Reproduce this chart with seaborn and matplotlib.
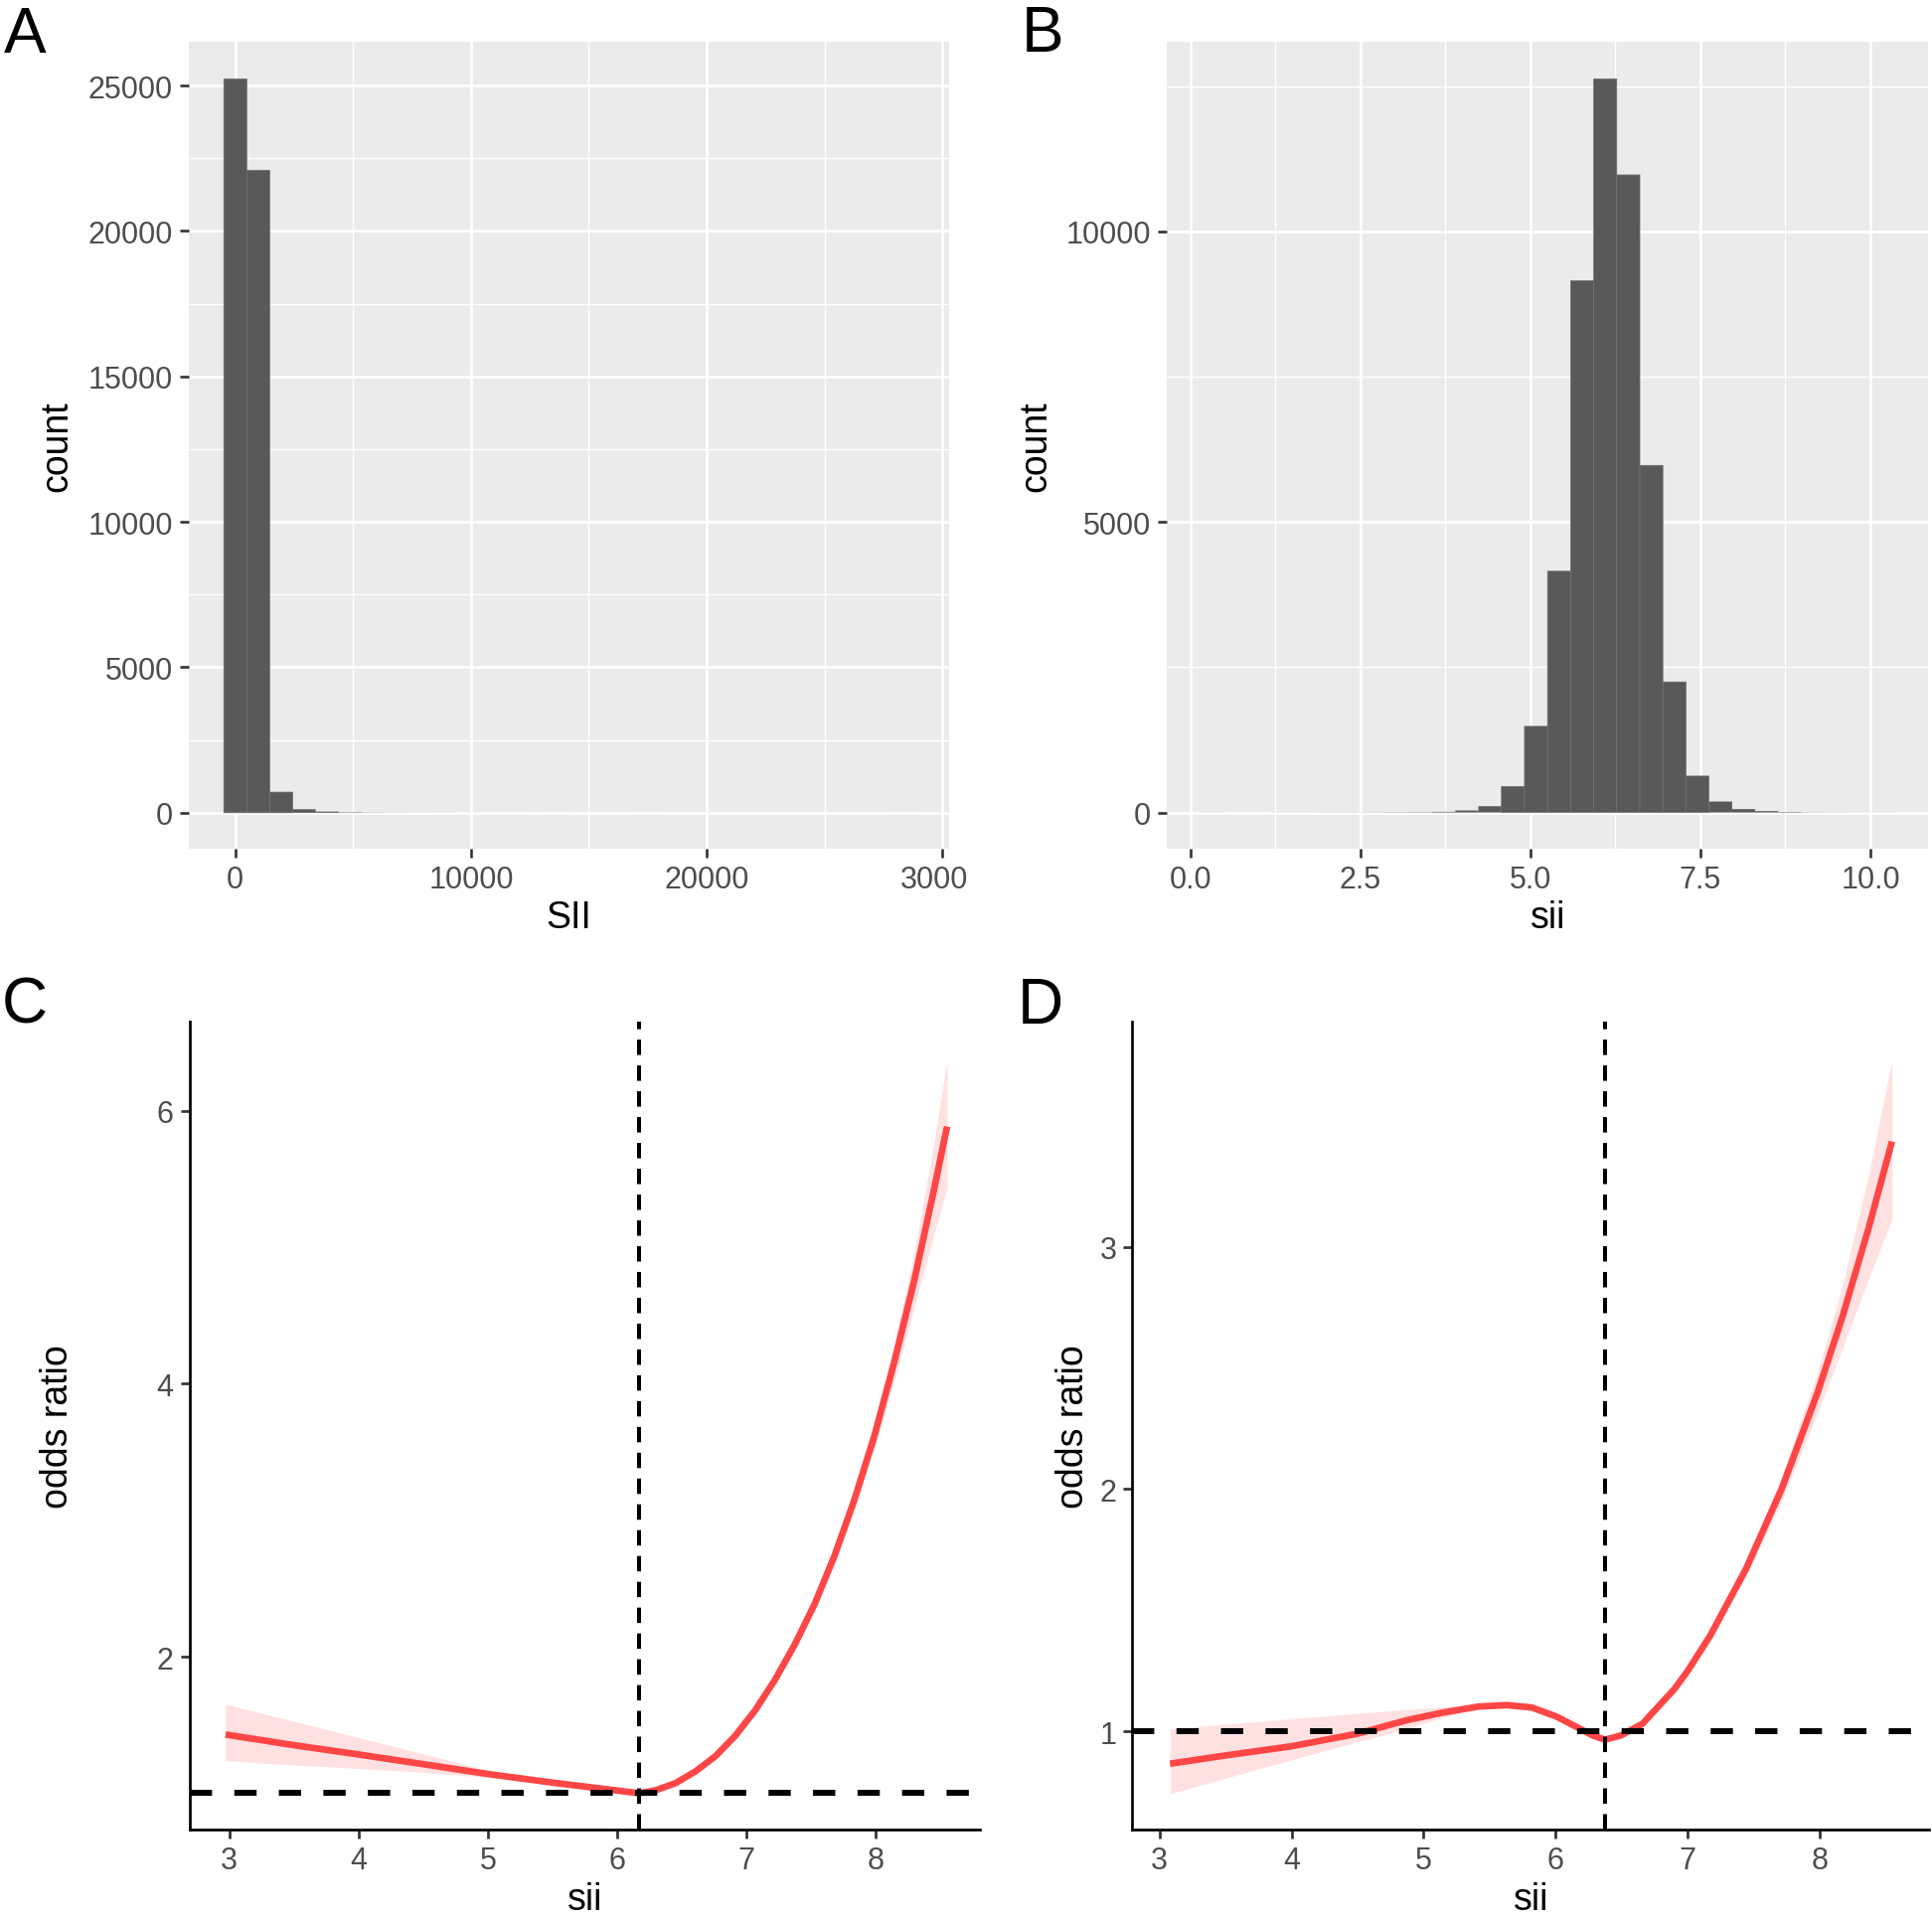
import numpy as np
import pandas as pd
import matplotlib
matplotlib.use("Agg")
import matplotlib.pyplot as plt
import seaborn as sns
from matplotlib.transforms import Bbox, TransformedBbox

# ---------------- data ----------------
# A: histogram of raw SII, 30 bins
sii_bin_start = -488
sii_bin_width = 975
sii_counts = [25230, 22089, 710, 119, 40, 15, 7, 4, 3, 2, 1, 1, 1, 0, 1,
              0, 0, 0, 1, 0, 0, 0, 0, 0, 0, 0, 0, 0, 0, 1]
sii_xticks = [0, 10000, 20000, 30000]
sii_xtick_labels = ["0", "10000", "20000", "30000"]
sii_yticks = [0, 5000, 10000, 15000, 20000, 25000]
sii_ytick_labels = ["0", "5000", "10000", "15000", "20000", "25000"]

# B: histogram of log SII, 30 bins
logsii_bin_start = 0.166
logsii_bin_width = 0.3392
logsii_counts = [1, 0, 0, 1, 1, 2, 2, 3, 4, 5, 11, 34, 108, 448, 1483,
                 4153, 9153, 12628, 10975, 5975, 2247, 627, 188, 57, 23, 8, 3, 2, 1, 1]
logsii_xticks = [0.0, 2.5, 5.0, 7.5, 10.0]
logsii_xtick_labels = ["0.0", "2.5", "5.0", "7.5", "10.0"]
logsii_yticks = [0, 5000, 10000]
logsii_ytick_labels = ["0", "5000", "10000"]

# C: odds ratio curve (model 1)
c_x = [2.97, 3.5, 4.0, 4.5, 5.0, 5.5, 6.0, 6.17, 6.3, 6.454, 6.608, 6.762, 6.915,
       7.069, 7.223, 7.377, 7.531, 7.685, 7.838, 7.992, 8.146, 8.3, 8.454, 8.556]
c_or = [1.43, 1.352, 1.284, 1.213, 1.141, 1.078, 1.02, 1.0, 1.022, 1.074, 1.16, 1.271, 1.42,
        1.606, 1.83, 2.09, 2.387, 2.741, 3.149, 3.615, 4.154, 4.749, 5.419, 5.884]
c_hi = [1.653, 1.527, 1.408, 1.288, 1.168, 1.09, 1.025, 1.0, 1.024, 1.077, 1.164, 1.276, 1.427,
        1.618, 1.846, 2.11, 2.417, 2.786, 3.214, 3.71, 4.29, 4.95, 5.76, 6.37]
c_lo = [1.24, 1.206, 1.182, 1.153, 1.117, 1.068, 1.015, 1.0, 1.02, 1.071, 1.156, 1.266, 1.413,
        1.594, 1.814, 2.07, 2.357, 2.696, 3.084, 3.52, 4.02, 4.55, 5.09, 5.44]
c_cut = 6.17
c_yticks = [2, 4, 6]

# D: odds ratio curve (model 2)
d_x = [3.08, 3.5, 4.0, 4.5, 4.875, 5.145, 5.415, 5.631, 5.82, 6.009, 6.171, 6.279,
       6.373, 6.495, 6.657, 6.9, 7.0, 7.17, 7.44, 7.71, 7.98, 8.17, 8.37, 8.546]
d_or = [0.866, 0.90, 0.938, 0.99, 1.046, 1.077, 1.102, 1.108, 1.098, 1.06, 1.014, 0.983,
        0.965, 0.983, 1.031, 1.175, 1.25, 1.395, 1.67, 2.0, 2.395, 2.71, 3.08, 3.436]
d_hi = [1.010, 1.029, 1.052, 1.074, 1.09, 1.1, 1.11, 1.114, 1.104, 1.066, 1.018, 0.986,
        0.967, 0.986, 1.036, 1.184, 1.261, 1.41, 1.70, 2.05, 2.48, 2.84, 3.30, 3.77]
d_lo = [0.743, 0.806, 0.882, 0.957, 1.01, 1.058, 1.094, 1.102, 1.092, 1.054, 1.01, 0.98,
        0.963, 0.98, 1.026, 1.166, 1.239, 1.38, 1.64, 1.95, 2.31, 2.58, 2.87, 3.117]
d_cut = 6.37
d_yticks = [1, 2, 3]

cut_xticks = [3, 4, 5, 6, 7, 8]

# ---------------- style ----------------
sns.set_theme(style="ticks")
plt.rcParams["font.family"] = ["Liberation Sans", "DejaVu Sans"]

TICK_SIZE = 22
TITLE_SIZE = 27
LETTER_SIZE = 46
TICK_COLOR = "#333333"
LABEL_COLOR = "#4D4D4D"
BAR_COLOR = "#595959"
LINE_COLOR = "#FF4646"

fig = plt.figure(figsize=(19.44, 19.31), dpi=100)

ax_a = fig.add_axes([0.09758, 0.5570, 0.3935, 0.4205])
ax_b = fig.add_axes([0.6040, 0.5570, 0.3940, 0.4205])
ax_c = fig.add_axes([0.0980, 0.04609, 0.4092, 0.4210])
ax_d = fig.add_axes([0.5861, 0.04609, 0.4126, 0.4210])


def histograma(ax, inicio, largura, contagens, xticks, xlabels, yticks, ylabels,
               xminor, yminor, xlim, ylim, titulo_x):
    n = len(contagens)
    centros = inicio + largura * (np.arange(n) + 0.5)
    dados = pd.DataFrame({"x": centros, "n": contagens})
    sns.histplot(data=dados, x="x", weights="n", binwidth=largura,
                 binrange=(inicio, inicio + n * largura), ax=ax,
                 color=BAR_COLOR, alpha=1, linewidth=0)
    for p in ax.patches:
        # no pixel snapping, so bars with a handful of cases stay hair-thin
        p.set_snap(False)
        if p.get_height() <= 0:
            p.set_visible(False)
        elif p.get_height() > 300:
            # faint separators between neighbouring bars, as in the original
            p.set_edgecolor("#707070")
            p.set_linewidth(0.5)

    ax.set_facecolor("#EBEBEB")
    ax.set_axisbelow(True)
    for s in ax.spines.values():
        s.set_visible(False)

    ax.set_xlim(*xlim)
    ax.set_ylim(*ylim)
    ax.set_xticks(xticks)
    ax.set_xticklabels(xlabels)
    ax.set_yticks(yticks)
    ax.set_yticklabels(ylabels)
    ax.set_xticks(xminor, minor=True)
    ax.set_yticks(yminor, minor=True)

    ax.grid(True, which="major", color="white", linewidth=1.9)
    ax.grid(True, which="minor", color="white", linewidth=1.0)
    ax.tick_params(which="major", length=6.5, width=1.9, color=TICK_COLOR,
                   labelsize=TICK_SIZE, labelcolor=LABEL_COLOR, pad=5)
    ax.tick_params(which="minor", length=0)

    ax.set_xlabel(titulo_x, fontsize=TITLE_SIZE, color="black", va="center")
    ax.set_ylabel("count", fontsize=TITLE_SIZE, color="black", va="center")


histograma(ax_a, sii_bin_start, sii_bin_width, sii_counts,
           sii_xticks, sii_xtick_labels, sii_yticks, sii_ytick_labels,
           [5000, 15000, 25000], [2500, 7500, 12500, 17500, 22500],
           (-1986, 30273), (-1250, 26490), "SII")
ax_a.xaxis.set_label_coords(0.5, -0.0845)
ax_a.yaxis.set_label_coords(-0.1728, 0.5)

histograma(ax_b, logsii_bin_start, logsii_bin_width, logsii_counts,
           logsii_xticks, logsii_xtick_labels, logsii_yticks, logsii_ytick_labels,
           [1.25, 3.75, 6.25, 8.75], [2500, 7500, 12500],
           (-0.343, 10.85), (-631, 13259), "sii")
ax_b.xaxis.set_label_coords(0.5, -0.0850)
ax_b.yaxis.set_label_coords(-0.1717, 0.5)

# the 30000 label is cut by the panel border in the original figure
clip = TransformedBbox(Bbox.from_extents(0, 0, 974 / 1944, 1), fig.transFigure)
for tick in ax_a.xaxis.get_major_ticks():
    tick.label1.set_clip_box(clip)
    tick.label1.set_clip_on(True)


def curva_or(ax, x, orr, lo, hi, corte, yticks, xlim, ylim):
    ax.fill_between(x, lo, hi, color=LINE_COLOR, alpha=0.16, linewidth=0)
    sns.lineplot(x=x, y=orr, ax=ax, color=LINE_COLOR, linewidth=4.8,
                 solid_capstyle="butt", solid_joinstyle="round")
    ax.axhline(1, color="black", linewidth=4.3, linestyle=(0, (3.75, 3.75)))
    ax.axvline(corte, color="black", linewidth=2.9, linestyle=(0, (3.85, 2.6)))

    sns.despine(ax=ax)
    for lado in ("left", "bottom"):
        ax.spines[lado].set_linewidth(1.95)
        ax.spines[lado].set_color("black")

    ax.set_xlim(*xlim)
    ax.set_ylim(*ylim)
    ax.set_xticks(cut_xticks)
    ax.set_xticklabels([str(v) for v in cut_xticks])
    ax.set_yticks(yticks)
    ax.set_yticklabels([str(v) for v in yticks])
    ax.tick_params(length=6.5, width=1.95, color=TICK_COLOR,
                   labelsize=TICK_SIZE, labelcolor=LABEL_COLOR, pad=5)
    ax.set_xlabel("sii", fontsize=TITLE_SIZE, color="black", va="center")
    ax.set_ylabel("odds ratio", fontsize=TITLE_SIZE, color="black", va="center")


curva_or(ax_c, c_x, c_or, c_lo, c_hi, c_cut, c_yticks, (2.69, 8.81), (0.734, 6.652))
ax_c.xaxis.set_label_coords(0.5, -0.0867)
ax_c.yaxis.set_label_coords(-0.1662, 0.5)

curva_or(ax_d, d_x, d_or, d_lo, d_hi, d_cut, d_yticks, (2.795, 8.83), (0.594, 3.931))
ax_d.xaxis.set_label_coords(0.5, -0.0867)
ax_d.yaxis.set_label_coords(-0.0742, 0.5)

# panel letters
for letra, x, y in [("A", 4, 53), ("B", 1028, 52), ("C", 2, 1030), ("D", 1024, 1030)]:
    fig.text(x / 1944, 1 - y / 1931, letra, fontsize=LETTER_SIZE, color="black",
             ha="left", va="baseline")

fig.savefig("out.png", dpi=100, facecolor="white")
